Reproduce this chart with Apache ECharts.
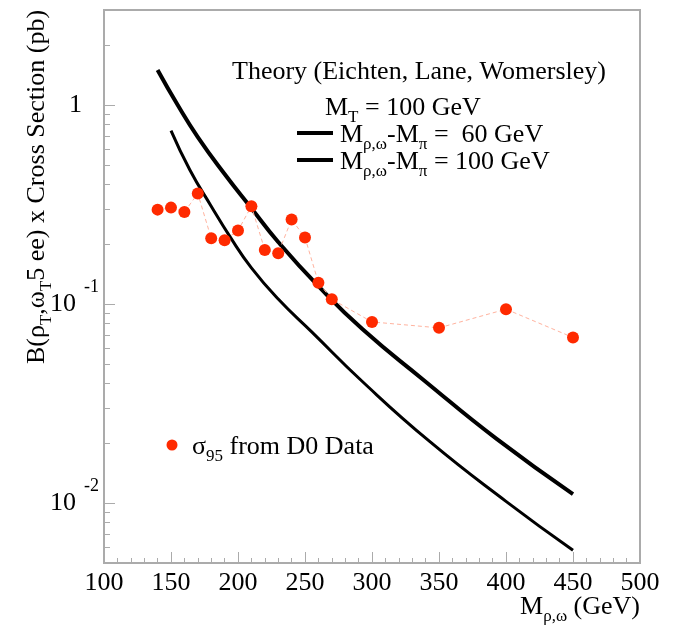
<!DOCTYPE html>
<html><head><meta charset="utf-8">
<script src="https://cdn.jsdelivr.net/npm/echarts@6/dist/echarts.min.js"></script>
<style>html,body{margin:0;padding:0;background:#fff}#c{width:675px;height:631px}</style>
</head><body><div id="c"></div>
<script>
// Theory curve, M(rho,omega)-M(pi) = 60 GeV
const upperMass = [140, 155, 170, 190, 210, 230, 260, 293, 338, 393, 450];
const upperXsec = [1.50, 1.00, 0.69, 0.45, 0.303, 0.205, 0.123, 0.0747, 0.0418, 0.0210, 0.0111];
// Theory curve, M(rho,omega)-M(pi) = 100 GeV
const lowerMass = [150, 164, 180, 194, 210, 230, 255, 293, 343, 400, 450];
const lowerXsec = [0.743, 0.473, 0.310, 0.218, 0.152, 0.106, 0.0725, 0.0407, 0.0204, 0.0102, 0.00579];
// sigma_95 from D0 data
const dataMass = [140, 150, 160, 170, 180, 190, 200, 210, 220, 230, 240, 250, 260, 270, 300, 350, 400, 450];
const dataLimit = [0.298, 0.305, 0.290, 0.359, 0.214, 0.209, 0.234, 0.310, 0.187, 0.180, 0.266, 0.216, 0.128, 0.1057, 0.0813, 0.0759, 0.0942, 0.0679];
// axes
const xMin = 100, xMax = 500, xStep = 50;
const yMin = 0.005, yMax = 3;
const yMajorTicks = [0.01, 0.1, 1];
const yMajorLabels = {'0.01': '{b|10}{s|-2}', '0.1': '{b|10}{s|-1}', '1': '{one|1}'};
const yMinorTicks = [0.006, 0.007, 0.008, 0.009, 0.02, 0.03, 0.04, 0.05, 0.06, 0.07, 0.08, 0.09,
                     0.2, 0.3, 0.4, 0.5, 0.6, 0.7, 0.8, 0.9, 2, 3];

const F = 'Liberation Serif';
const AX = '#ababab';
const pair = (xs, ys) => xs.map((x, i) => [x, ys[i]]);

const rich = {
  b: {fontFamily: F, fontSize: 26, color: '#000', lineHeight: 36},
  s: {fontFamily: F, fontSize: 17, color: '#000', lineHeight: 17, verticalAlign: 'bottom'},
};
function txt(x, y, text, align) {
  return {type: 'text', x: x, y: y, style: {text: text, rich: rich, fontFamily: F, fontSize: 26,
    fill: '#000', align: align || 'left', verticalAlign: 'middle'}};
}

const chart = echarts.init(document.getElementById('c'), null, {renderer: 'canvas'});
chart.setOption({
  animation: false,
  backgroundColor: '#fff',
  grid: {left: 104, right: 35, top: 10, bottom: 68, show: true, borderColor: AX, borderWidth: 2, backgroundColor: 'transparent'},
  xAxis: {
    type: 'value', min: xMin, max: xMax, interval: xStep,
    axisLine: {show: true, lineStyle: {color: AX, width: 2}},
    axisTick: {show: true, inside: true, length: 11, lineStyle: {color: AX, width: 1}},
    minorTick: {show: true, splitNumber: 5, length: 5, lineStyle: {color: AX, width: 1}},
    axisLabel: {fontFamily: F, fontSize: 26, color: '#000', margin: 7},
    splitLine: {show: false}
  },
  yAxis: [{
    type: 'log', min: yMin, max: yMax, logBase: 10,
    axisLine: {show: true, lineStyle: {color: AX, width: 2}},
    axisTick: {show: true, inside: true, length: 11, customValues: yMajorTicks, lineStyle: {color: AX, width: 1}},
    axisLabel: {customValues: yMajorTicks, margin: 5, formatter: v => yMajorLabels[String(v)] || '',
      rich: {
        b: {fontFamily: F, fontSize: 26, color: '#000', lineHeight: 52},
        s: {fontFamily: F, fontSize: 18, color: '#000', lineHeight: 20, verticalAlign: 'top', padding: [0, 0, 0, 8]},
        one: {fontFamily: F, fontSize: 26, color: '#000', padding: [0, 17, 0, 0]}
      }},
    splitLine: {show: false}
  }, {
    type: 'log', min: yMin, max: yMax, logBase: 10, position: 'left', offset: 0,
    axisLine: {show: false},
    axisTick: {show: true, inside: true, length: 6, customValues: yMinorTicks, lineStyle: {color: AX, width: 1}},
    axisLabel: {show: false},
    splitLine: {show: false}
  }],
  series: [{
    type: 'line', name: 'dM60', data: pair(upperMass, upperXsec), smooth: 0.5, showSymbol: false, symbol: 'none',
    lineStyle: {color: '#000', width: 4}, z: 2
  }, {
    type: 'line', name: 'dM100', data: pair(lowerMass, lowerXsec), smooth: 0.5, showSymbol: false, symbol: 'none',
    lineStyle: {color: '#000', width: 3}, z: 2
  }, {
    type: 'line', name: 'sigma95', data: pair(dataMass, dataLimit), symbol: 'circle', symbolSize: 12,
    itemStyle: {color: '#ff2a00'}, lineStyle: {color: '#ffb39f', width: 1, type: [4, 3]}, z: 3
  }],
  graphic: [
    txt(232, 72, 'Theory (Eichten, Lane, Womersley)'),
    txt(325, 108, '{b|M}{s|T}{b| = 100 GeV}'),
    txt(340, 135, '{b|M}{s|ρ,ω}{b|-M}{s|π}{b| =  60 GeV}'),
    txt(340, 162, '{b|M}{s|ρ,ω}{b|-M}{s|π}{b| = 100 GeV}'),
    {type: 'line', shape: {x1: 297, y1: 133, x2: 333, y2: 133}, style: {stroke: '#000', lineWidth: 4}},
    {type: 'line', shape: {x1: 297, y1: 160, x2: 333, y2: 160}, style: {stroke: '#000', lineWidth: 4}},
    {type: 'circle', shape: {cx: 172, cy: 445, r: 5.5}, style: {fill: '#ff2a00'}},
    txt(192, 447, '{b|σ}{s|95}{b| from D0 Data}'),
    txt(640, 607, '{b|M}{s|ρ,ω}{b| (GeV)}', 'right'),
    {type: 'text', x: 37, y: 187, rotation: Math.PI / 2,
      style: {text: '{b|B(ρ}{s|T}{b|,ω}{s|T}{b|5 ee) x Cross Section (pb)}', rich: rich, align: 'center', verticalAlign: 'middle', fontFamily: F, fontSize: 26}}
  ]
});
</script></body></html>
